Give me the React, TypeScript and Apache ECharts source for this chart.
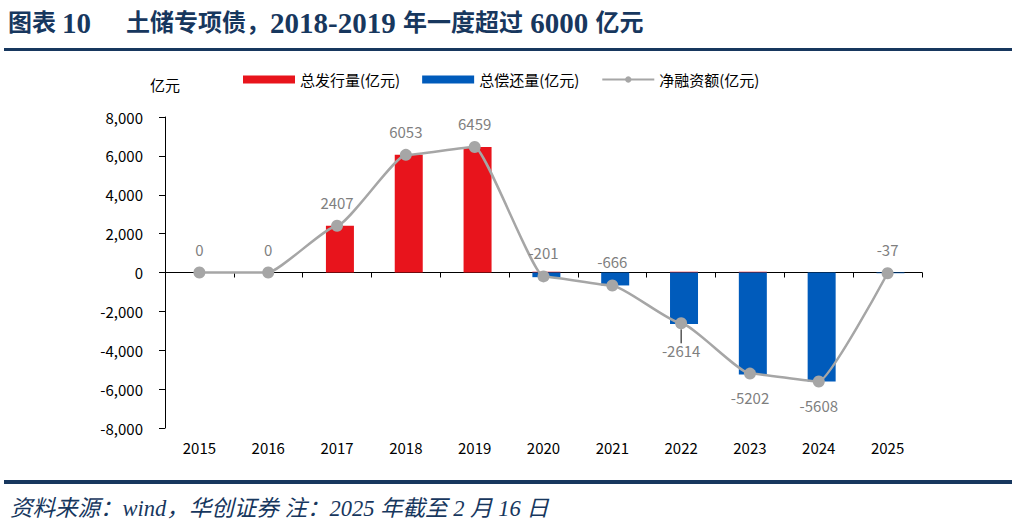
import React, { useEffect, useRef } from "react";
import * as echarts from "echarts";

const years = ["2015", "2016", "2017", "2018", "2019", "2020", "2021", "2022", "2023", "2024", "2025"];
const issuance = [0, 0, 2407, 6053, 6459, 40, 0, 40, 40, 0, 0];
const repayment = [0, 0, 0, 0, 0, -241, -666, -2654, -5242, -5608, -37];
const netFinancing = [0, 0, 2407, 6053, 6459, -201, -666, -2614, -5202, -5608, -37];
const labelBelow = [false, false, false, false, false, false, false, true, true, true, false];

const NAVY = "#17375e";
const SERIF = "'Liberation Serif', 'Noto Sans CJK SC', serif";

export default function App() {
  const ref = useRef<HTMLDivElement>(null);
  useEffect(() => {
    const chart = echarts.init(ref.current!, null, { renderer: "svg" });
    const fmt = (v: number) => {
      const s = Math.abs(v).toLocaleString("en-US");
      return v < 0 ? "-" + s : s;
    };
    const cn = { fill: NAVY, font: `bold 24px ${SERIF}` };
    const en = { fill: NAVY, font: `bold 29px ${SERIF}` };
    chart.setOption({
      animation: false,
      backgroundColor: "#ffffff",
      textStyle: { fontFamily: "'Noto Sans CJK SC', 'Noto Sans', sans-serif" },
      graphic: [
        {
          type: "text",
          x: 8,
          y: 8,
          style: {
            text: "{c|图表} {e|10}",
            rich: { c: cn, e: en },
            font: `bold 24px ${SERIF}`,
          },
        },
        {
          type: "text",
          x: 126,
          y: 8,
          style: {
            text: "{c|土储专项债，}{e|2018-2019 }{c|年一度超过}{e| 6000 }{c|亿元}",
            rich: { c: cn, e: en },
            font: `bold 24px ${SERIF}`,
          },
        },
        { type: "rect", shape: { x: 4, y: 48, width: 1008, height: 3 }, style: { fill: NAVY } },
        { type: "rect", shape: { x: 4, y: 480, width: 1008, height: 4 }, style: { fill: NAVY } },
        {
          type: "text",
          x: 10,
          y: 497,
          style: {
            text: "资料来源：wind，华创证券 注：2025 年截至 2 月 16 日",
            fill: NAVY,
            font: `italic 22.5px ${SERIF}`,
          },
        },
        {
          type: "text",
          x: 150,
          y: 77,
          style: { text: "亿元", fill: "#000", font: "15px 'Noto Sans CJK SC', sans-serif" },
        },
      ],
      legend: {
        top: 67,
        left: 238,
        itemGap: 22,
        itemWidth: 52,
        itemHeight: 8,
        textStyle: { fontSize: 15, color: "#000" },
        data: [
          { name: "总发行量(亿元)", icon: "rect" },
          { name: "总偿还量(亿元)", icon: "rect" },
          { name: "净融资额(亿元)" },
        ],
      },
      grid: { left: 165, right: 96, top: 117, bottom: 96 },
      xAxis: {
        type: "category",
        data: years,
        axisLine: { onZero: true, lineStyle: { color: "#000", width: 1 } },
        axisTick: { show: true, length: 5, lineStyle: { color: "#000" } },
        axisLabel: { show: false },
      },
      yAxis: {
        type: "value",
        min: -8000,
        max: 8000,
        interval: 2000,
        splitLine: { show: false },
        axisLine: { show: true, lineStyle: { color: "#000" } },
        axisTick: { show: true, length: 6, lineStyle: { color: "#000" } },
        axisLabel: { color: "#000", fontSize: 15, margin: 22, formatter: fmt },
      },
      series: [
        {
          name: "总发行量(亿元)",
          type: "bar",
          stack: "total",
          barWidth: 28,
          itemStyle: { color: "#e8141c" },
          data: issuance,
          z: 2,
        },
        {
          name: "总偿还量(亿元)",
          type: "bar",
          stack: "total",
          barWidth: 28,
          itemStyle: { color: "#005bbb" },
          data: repayment,
          z: 2,
        },
        {
          name: "净融资额(亿元)",
          type: "line",
          smooth: 0.15,
          smoothMonotone: "x",
          symbol: "circle",
          symbolSize: 12,
          lineStyle: { color: "#a6a6a6", width: 2.5 },
          itemStyle: { color: "#a6a6a6" },
          z: 5,
          data: netFinancing.map((v, i) => ({
            value: v,
            label: {
              show: true,
              position: labelBelow[i] ? "bottom" : "top",
              distance: 10,
              color: "#7f7f7f",
              fontSize: 15,
            },
            labelLine: { show: i === 7, lineStyle: { color: "#000", width: 1 } },
          })),
          labelLayout: (p: any) => (p.dataIndex === 7 ? { dy: 4 } : {}),
        },
        {
          name: "xlabels",
          type: "bar",
          data: years.map(() => -8000),
          barWidth: 0,
          silent: true,
          itemStyle: { color: "transparent" },
          label: {
            show: true,
            position: "bottom",
            distance: 12,
            color: "#000",
            fontSize: 15,
            formatter: (p: any) => years[p.dataIndex],
          },
          barGap: "-100%",
        },
      ],
    });
    return () => chart.dispose();
  }, []);
  return (
    <div
      ref={ref}
      style={{ position: "absolute", left: 0, top: 0, width: 1018, height: 524 }}
    />
  );
}
